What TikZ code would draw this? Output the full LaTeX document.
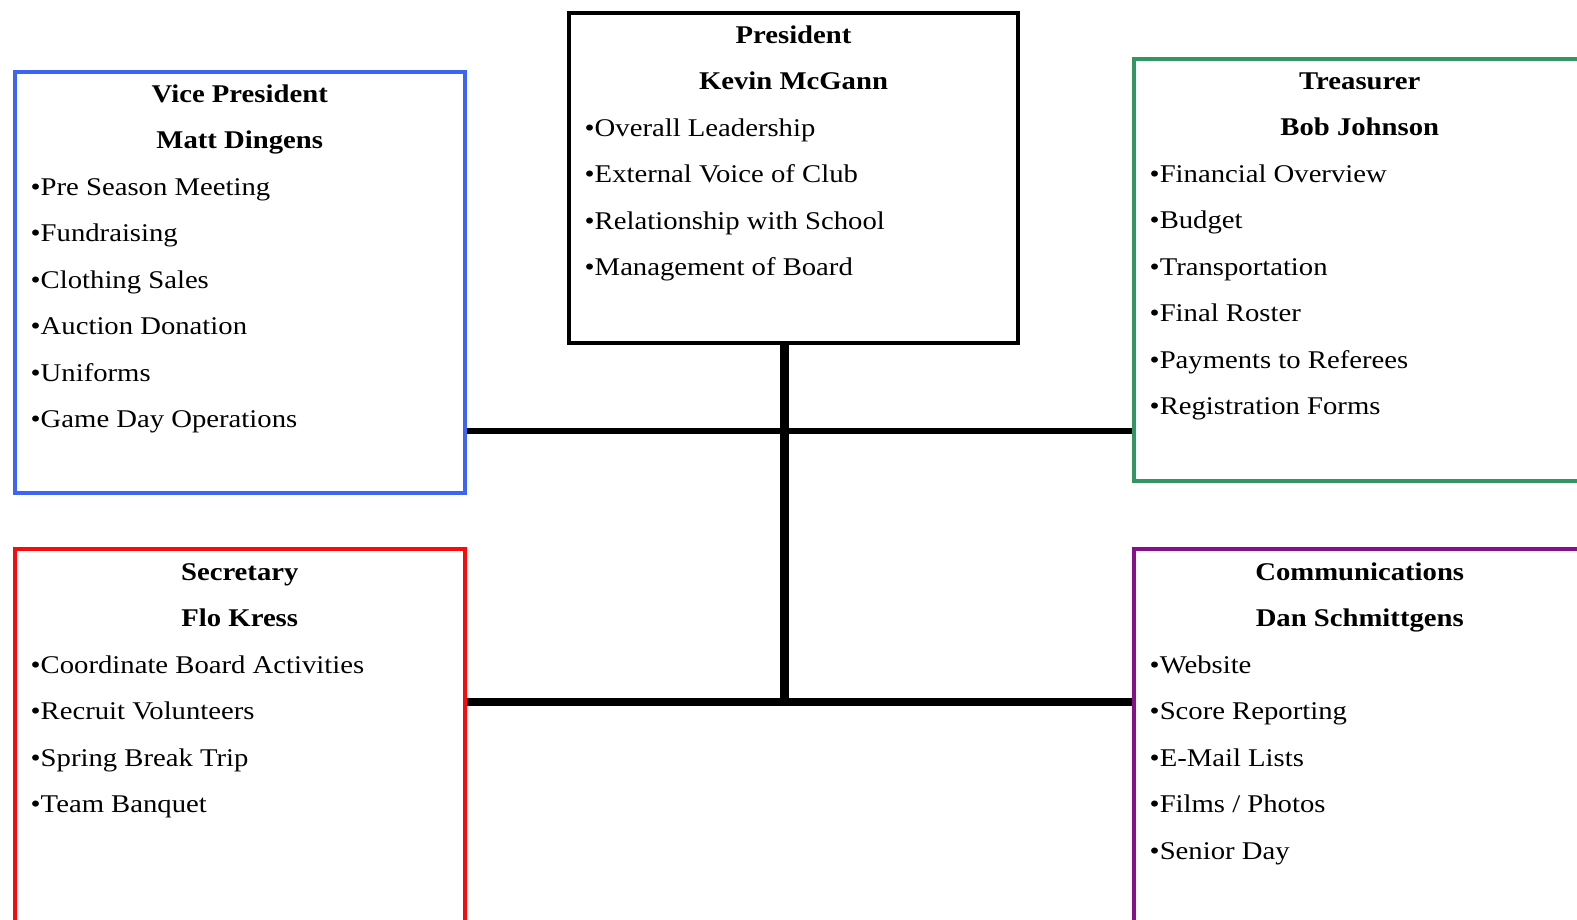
\documentclass[tikz,border=0pt]{standalone}
\usepackage{fontspec}
\setmainfont[FakeStretch=1.125]{Liberation Serif}
\usetikzlibrary{calc}
\usetikzlibrary{positioning}

\definecolor{vpblue}{RGB}{60,100,245}
\definecolor{trgreen}{RGB}{50,150,100}
\definecolor{sered}{RGB}{250,10,10}
\definecolor{copurple}{RGB}{135,15,140}

\tikzset{
 office/.style={draw, line width=3.5pt, minimum width=450pt, minimum height=421pt, inner sep=0, anchor=north west},
 head/.style={anchor=base, inner sep=0, font=\fontsize{25.5}{30}\selectfont\bfseries},
 duty/.style={anchor=base west, inner sep=0, font=\fontsize{25.5}{30}\selectfont},
 link/.style={black, line width=6pt},
}

\begin{document}
\begin{tikzpicture}[x=1pt,y=-1pt]
\useasboundingbox (0,0) rectangle (1577,919);
% offices
\node[office, line width=4pt, minimum width=449pt, minimum height=330pt] (pres) at (567,11) {};
\node[office, vpblue] (vp) at (13,70) {};
\node[office, trgreen, minimum width=452pt, minimum height=422pt] (tre) at (1132,57) {};
\node[office, sered] (sec) at (13,547) {};
\node[office, copurple, minimum width=452pt] (com) at (1132,547) {};
% president
\node[head] (pres-t) at ($(pres.north)+(0,32)$) {President};
\node[head] (pres-n) at ($(pres-t.base)+(0,46.5)$) {Kevin McGann};
\foreach \d [count=\i] in {Overall Leadership, External Voice of Club, Relationship with School, Management of Board}
 \node[duty] (pres-\i) at ($(pres.north west)+(17.5,78.5+46.5*\i)$) {\textbullet\d};
% vice president
\node[head] (vp-t) at ($(vp.north)+(0,32)$) {Vice President};
\node[head] (vp-n) at ($(vp-t.base)+(0,46.5)$) {Matt Dingens};
\foreach \d [count=\i] in {Pre Season Meeting, Fundraising, Clothing Sales, Auction Donation, Uniforms, Game Day Operations}
 \node[duty] (vp-\i) at ($(vp.north west)+(17.5,78.5+46.5*\i)$) {\textbullet\d};
% treasurer
\node[head] (tre-t) at ($(tre.north)+(0,32)$) {Treasurer};
\node[head] (tre-n) at ($(tre-t.base)+(0,46.5)$) {Bob Johnson};
\foreach \d [count=\i] in {Financial Overview, Budget, Transportation, Final Roster, Payments to Referees, Registration Forms}
 \node[duty] (tre-\i) at ($(tre.north west)+(17.5,78.5+46.5*\i)$) {\textbullet\d};
% secretary
\node[head] (sec-t) at ($(sec.north)+(0,33)$) {Secretary};
\node[head] (sec-n) at ($(sec-t.base)+(0,46.5)$) {Flo Kress};
\foreach \d [count=\i] in {Coordinate Board Activities, Recruit Volunteers, Spring Break Trip, Team Banquet}
 \node[duty] (sec-\i) at ($(sec.north west)+(17.5,79.5+46.5*\i)$) {\textbullet\d};
% communications
\node[head] (com-t) at ($(com.north)+(0,33)$) {Communications};
\node[head] (com-n) at ($(com-t.base)+(0,46.5)$) {Dan Schmittgens};
\foreach \d [count=\i] in {Website, Score Reporting, E-Mail Lists, Films / Photos, Senior Day}
 \node[duty] (com-\i) at ($(com.north west)+(17.5,79.5+46.5*\i)$) {\textbullet\d};
% connectors
\coordinate (j1) at (784,431);
\coordinate (j2) at (784,702);
\draw[link] (vp.east |- j1) -- (tre.west |- j1);
\draw[link, line width=8pt] (sec.east |- j2) -- (com.west |- j2);
\draw[link, line width=9pt] (pres.south -| j1) -- ([yshift=-4pt]j2);
\end{tikzpicture}
\end{document}
